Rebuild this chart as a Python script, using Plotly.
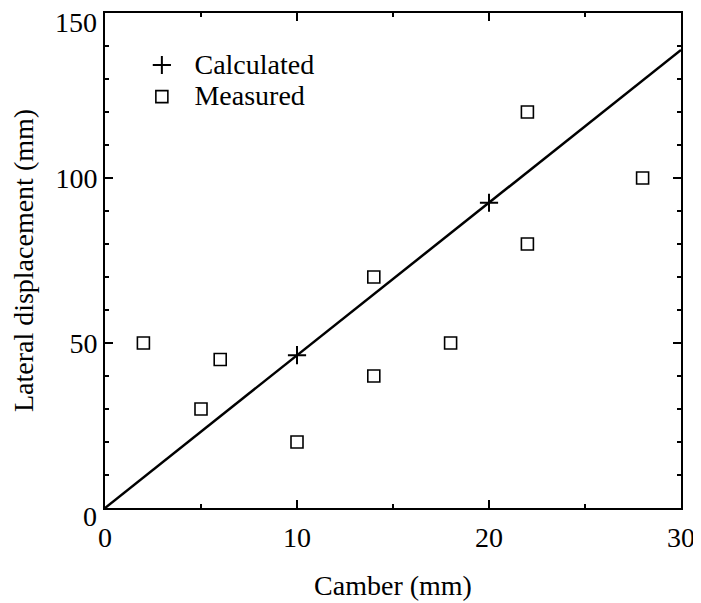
import plotly.graph_objects as go

# Data
calc_x = [0, 10, 20, 30]
calc_y = [0, 46.3, 92.5, 138.8]

meas_x = [2, 5, 6, 10, 14, 14, 18, 22, 22, 28]
meas_y = [50, 30, 45, 20, 70, 40, 50, 120, 80, 100]

x_ticks = [0, 10, 20, 30]
y_ticks = [0, 50, 100, 150]

FONT = "Liberation Serif, Times New Roman, serif"
FS = 28


def legend_name(s):
    return "<span style='font-size:%dpx'>\u00a0\u2009%s</span>" % (FS, s)


fig = go.Figure()

fig.add_trace(go.Scatter(
    x=calc_x, y=calc_y, mode="lines",
    line=dict(color="black", width=2.5),
    showlegend=False, hoverinfo="skip",
))
fig.add_trace(go.Scatter(
    x=calc_x[1:3], y=calc_y[1:3], mode="markers", name=legend_name("Calculated"),
    marker=dict(symbol="cross-thin-open", size=13, color="black",
                line=dict(color="black", width=2)),
))
fig.add_trace(go.Scatter(
    x=meas_x, y=meas_y, mode="markers", name=legend_name("Measured"),
    marker=dict(symbol="square-open", size=12, color="black",
                line=dict(color="black", width=1.6)),
))

axis_common = dict(
    showline=True, linecolor="black", linewidth=2, mirror="ticks",
    ticks="inside", ticklen=8, tickwidth=2, tickcolor="black",
    showgrid=False, zeroline=False, automargin=False,
    ticklabeloverflow="allow",
    tickfont=dict(family=FONT, size=FS, color="black"),
)

# end labels of the y axis sit slightly below their ticks in the reference
y_ticktext = ["" if v in (y_ticks[0], y_ticks[-1]) else str(v) for v in y_ticks]

fig.update_xaxes(
    range=[0, 30], tickvals=x_ticks, ticktext=[str(v) for v in x_ticks],
    minor=dict(ticks="inside", ticklen=4, tickwidth=1.5, tickcolor="black", dtick=5, showgrid=False),
    ticklabelstandoff=3,
    title=dict(text="Camber (mm)", font=dict(family=FONT, size=FS, color="black"), standoff=24),
    **axis_common,
)
fig.update_yaxes(
    range=[0, 150], tickvals=y_ticks, ticktext=y_ticktext,
    minor=dict(ticks="inside", ticklen=4, tickwidth=1.5, tickcolor="black", dtick=10, showgrid=False),
    title=dict(text="Lateral displacement (mm)", font=dict(family=FONT, size=FS, color="black"), standoff=29),
    **axis_common,
)

for v, shift in ((y_ticks[0], -8), (y_ticks[-1], -9)):
    fig.add_annotation(
        x=0, xref="paper", xanchor="right", xshift=-6,
        y=v, yref="y", yanchor="middle", yshift=shift,
        text=str(v), showarrow=False,
        font=dict(family=FONT, size=FS, color="black"),
    )

fig.update_layout(
    width=693, height=595,
    margin=dict(l=97, r=20, t=5, b=95),
    plot_bgcolor="white", paper_bgcolor="white",
    font=dict(family=FONT, size=FS, color="black"),
    legend=dict(x=0.064, y=0.937, xanchor="left", yanchor="top",
                bgcolor="rgba(0,0,0,0)", borderwidth=0,
                font=dict(family=FONT, size=22, color="black"),
                itemwidth=30, tracegroupgap=0),
)

fig.write_html("out.html")
